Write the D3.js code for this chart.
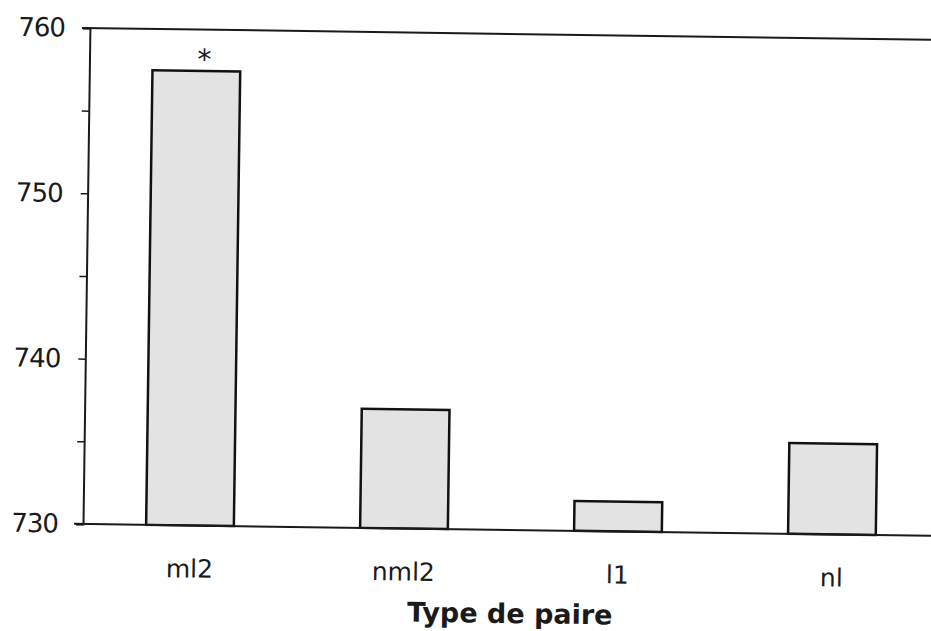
<!DOCTYPE html>
<html>
<head>
<meta charset="utf-8">
<script src="https://cdn.jsdelivr.net/npm/d3@7"></script>
<style>
  body { margin: 0; background: #fff; }
  svg { display: block; }
  text { font-family: "DejaVu Sans", Verdana, sans-serif; fill: #1a1a1a; }
</style>
</head>
<body>
<div id="vis"></div>
<script>
const categories = ["ml2", "nml2", "l1", "nl"];
const values = [757.5, 737.2, 731.8, 735.5];
const marks = ["*", "", "", ""];
const yTicks = [730, 735, 740, 745, 750, 755, 760];
const xTitle = "Type de paire";

const width = 931, height = 631;
const plotLeft = 83, plotTop = 28, plotBottom = 524, plotRight = 939;

const svg = d3.select("#vis")
    .append("svg")
    .attr("width", width)
    .attr("height", height);

// the scan is tilted a little, so the whole chart is turned about the axis corner
const g = svg.append("g")
    .attr("transform", "rotate(0.8," + plotLeft + "," + plotBottom + ")");

const x = d3.scaleBand()
    .domain(categories)
    .range([plotLeft, plotRight])
    .paddingInner(0.59)
    .paddingOuter(0.295);

const y = d3.scaleLinear()
    .domain([730, 760])
    .range([plotBottom, plotTop]);

// top frame line
g.append("line")
    .attr("x1", plotLeft - 8).attr("x2", plotRight)
    .attr("y1", y(760)).attr("y2", y(760))
    .attr("stroke", "#1a1a1a")
    .attr("stroke-width", 2);

// bars
g.selectAll(".bar")
    .data(categories)
    .enter()
    .append("rect")
    .attr("class", "bar")
    .attr("x", (d) => x(d))
    .attr("y", (d, i) => y(values[i]))
    .attr("width", x.bandwidth())
    .attr("height", (d, i) => y(730) - y(values[i]))
    .attr("fill", "#e3e3e3")
    .attr("stroke", "#111")
    .attr("stroke-width", 2.5);

// significance mark
g.selectAll(".mark")
    .data(categories)
    .enter()
    .append("text")
    .attr("class", "mark")
    .attr("x", (d) => x(d) + x.bandwidth() / 2 + 8)
    .attr("y", (d, i) => y(values[i]) - 2)
    .attr("text-anchor", "middle")
    .style("font-size", "28px")
    .text((d, i) => marks[i]);

// y axis
const yAxis = g.append("g")
    .attr("transform", "translate(" + plotLeft + ",0)")
    .call(d3.axisLeft(y)
        .tickValues(yTicks)
        .tickSize(7)
        .tickPadding(18)
        .tickFormat((d) => d % 10 === 0 ? d : ""));
yAxis.select(".domain").attr("stroke", "#1a1a1a").attr("stroke-width", 2);
yAxis.selectAll(".tick line").attr("stroke", "#1a1a1a").attr("stroke-width", 1.5);
yAxis.selectAll(".tick text")
    .style("font-size", "26px")
    .style("letter-spacing", "-1px")
    .style("font-family", "'DejaVu Sans', Verdana, sans-serif")
    .attr("fill", "#1a1a1a");

// x axis
const xAxis = g.append("g")
    .attr("transform", "translate(0," + plotBottom + ")")
    .call(d3.axisBottom(x).tickSize(0).tickPadding(28));
xAxis.select(".domain").remove();
xAxis.append("line")
    .attr("x1", plotLeft - 9).attr("x2", plotRight)
    .attr("stroke", "#1a1a1a")
    .attr("stroke-width", 2);
xAxis.selectAll(".tick text")
    .attr("dy", 0)
    .attr("y", 52)
    .style("font-size", "25px")
    .style("font-family", "'DejaVu Sans', Verdana, sans-serif")
    .attr("fill", "#1a1a1a");

// axis title
g.append("text")
    .attr("x", 511)
    .attr("y", plotBottom + 93)
    .attr("text-anchor", "middle")
    .style("font-size", "27px")
    .style("font-weight", "bold")
    .text(xTitle);
</script>
</body>
</html>
